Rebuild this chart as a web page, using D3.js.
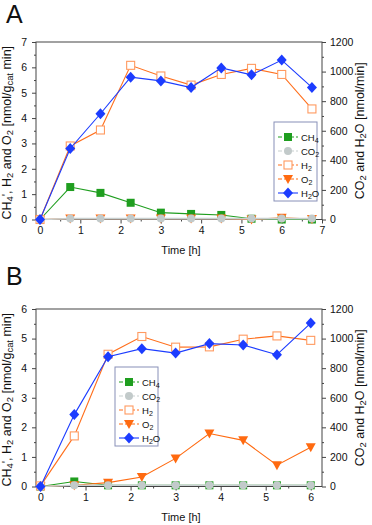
<!DOCTYPE html>
<html><head><meta charset="utf-8">
<script src="https://cdn.jsdelivr.net/npm/d3@7"></script>
<style>body{margin:0;background:#fff}svg{display:block;font-family:"Liberation Sans",Arial,sans-serif}</style>
</head><body><svg id="c" width="372" height="525"></svg>
<script>
// ---- Data ----
const seriesNames = ["CH4", "CO2", "H2", "O2", "H2O"];
const drawOrder = ["CH4", "O2", "H2", "CO2", "H2O"];
const timeA = [0, 0.75, 1.5, 2.25, 3, 3.75, 4.5, 5.25, 6, 6.75];
const ch4A = [0, 1.28, 1.05, 0.66, 0.27, 0.22, 0.18, 0.03, 0, 0];
const co2A = [0, 6, 6, 6, 6, 6, 6, 6, 6, 6];
const h2A  = [0, 2.9, 3.53, 6.08, 5.66, 5.3, 5.72, 5.96, 5.72, 4.36];
const o2A  = [0, 0.035, 0.035, 0.035, 0.035, 0.035, 0.035, 0, 0.07, 0.02];
const h2oA = [0, 480, 715, 962, 937, 892, 1025, 978, 1078, 893];

const timeB = [0, 0.75, 1.5, 2.25, 3, 3.75, 4.5, 5.25, 6];
const ch4B = [0, 0.17, 0.04, 0.04, 0.04, 0.04, 0.04, 0.04, 0.04];
const co2B = [0, 8, 8, 8, 8, 8, 8, 8, 8];
const h2B  = [0.02, 1.71, 4.47, 5.07, 4.71, 4.72, 4.98, 5.09, 4.94];
const o2B  = [0, 0.04, 0.13, 0.32, 0.95, 1.79, 1.56, 0.72, 1.33];
const h2oB = [0, 486, 878, 932, 902, 966, 957, 891, 1105];

const xTicksA = [0,1,2,3,4,5,6,7];
const xTicksB = [0,1,2,3,4,5,6];
const yLeftTicksA = [0,1,2,3,4,5,6,7];
const yLeftTicksB = [0,1,2,3,4,5,6];
const yRightTicks = [0,200,400,600,800,1000,1200];

const colors = {CH4:"#1f9e1f", CO2:"#c2caca", H2:"#ff6f1c", O2:"#ff6a10", H2O:"#1c3cff"};

const svg = d3.select("#c");

function marker(g, name, x, y) {
  if (name === "CH4") g.append("rect").attr("x", x-4).attr("y", y-4).attr("width", 8).attr("height", 8).attr("fill", colors.CH4);
  else if (name === "CO2") g.append("circle").attr("cx", x).attr("cy", y).attr("r", 4).attr("fill", colors.CO2);
  else if (name === "H2") g.append("rect").attr("x", x-4).attr("y", y-4).attr("width", 8).attr("height", 8).attr("fill", "#fff").attr("stroke", "#ff9a60").attr("stroke-width", 1.1);
  else if (name === "O2") g.append("path").attr("d", `M${x-5},${y-4}L${x+5},${y-4}L${x},${y+5}Z`).attr("fill", colors.O2);
  else if (name === "H2O") g.append("path").attr("d", `M${x},${y-5.5}L${x+5},${y}L${x},${y+5.5}L${x-5},${y}Z`).attr("fill", colors.H2O);
}

function subLabel(t, parts, ss) {
  parts.forEach(p => {
    if (typeof p === "string") t.append("tspan").text(p);
    else t.append("tspan").attr("baseline-shift", "-25%").attr("font-size", ss || "0.75em").text(p.s);
  });
}

function panel(cfg) {
  const g = svg.append("g");
  const x = d3.scaleLinear().domain(cfg.xDom).range([36, 322]);
  const yL = d3.scaleLinear().domain(cfg.yLDom).range([cfg.bottom, cfg.top]);
  const yR = d3.scaleLinear().domain([0, 1200]).range([cfg.bottom, cfg.top]);

  g.append("rect").attr("x", 36).attr("y", cfg.top).attr("width", 286).attr("height", cfg.bottom - cfg.top)
    .attr("fill", "none").attr("stroke", "#444").attr("stroke-width", 1);

  const fs = "10.5px";
  const xAx = g.append("g").attr("transform", `translate(0,${cfg.bottom})`)
    .call(d3.axisBottom(x).tickValues(cfg.xTicks).tickSize(4).tickPadding(3).tickFormat(d3.format("d")));
  const xMinor = g.append("g").attr("transform", `translate(0,${cfg.bottom})`)
    .call(d3.axisBottom(x).tickValues(cfg.xTicks.slice(0,-1).map(d => d + 0.5).filter(d => d <= cfg.xDom[1])).tickSize(2).tickFormat(""));
  const yAx = g.append("g").attr("transform", "translate(36,0)")
    .call(d3.axisLeft(yL).tickValues(cfg.yLTicks).tickSize(4).tickPadding(5).tickFormat(d3.format("d")));
  const yMinor = g.append("g").attr("transform", "translate(36,0)")
    .call(d3.axisLeft(yL).tickValues(cfg.yLTicks.slice(0,-1).map(d => d + 0.5)).tickSize(2).tickFormat(""));
  const rAx = g.append("g").attr("transform", "translate(322,0)")
    .call(d3.axisRight(yR).tickValues(yRightTicks).tickSize(4).tickPadding(4).tickFormat(d3.format("d")));
  const rMinor = g.append("g").attr("transform", "translate(322,0)")
    .call(d3.axisRight(yR).tickValues(yRightTicks.slice(0,-1).map(d => d + 100)).tickSize(2).tickFormat(""));
  [xAx, xMinor, yAx, yMinor, rAx, rMinor].forEach(a => {
    a.select(".domain").remove();
    a.selectAll("line").attr("stroke", "#444");
    a.selectAll("text").attr("font-size", fs).attr("fill", "#111").attr("font-family", "Liberation Sans, Arial, sans-serif");
  });

  g.append("text").attr("x", 6).attr("y", cfg.letterY).attr("font-size", "25px").attr("fill", "#111").text(cfg.letter);
  g.append("text").attr("x", 181).attr("y", cfg.bottom + 34.5).attr("text-anchor", "middle").attr("font-size", "11px").attr("fill", "#111").text("Time [h]");
  const lt = g.append("text").attr("transform", `translate(11,${(cfg.top + cfg.bottom)/2 + 2}) rotate(-90)`)
    .attr("text-anchor", "middle").attr("font-size", "12.5px").attr("fill", "#111");
  subLabel(lt, ["CH", {s:"4"}, "', H", {s:"2"}, " and O", {s:"2"}, " [nmol/g", {s:"cat"}, " min]"]);
  const rt = g.append("text").attr("transform", `translate(364,${(cfg.top + cfg.bottom)/2}) rotate(-90)`)
    .attr("text-anchor", "middle").attr("font-size", "12.5px").attr("fill", "#111");
  subLabel(rt, ["CO", {s:"2"}, " and H", {s:"2"}, "O [nmol/min]"]);

  const data = {CH4: cfg.ch4, CO2: cfg.co2, H2: cfg.h2, O2: cfg.o2, H2O: cfg.h2o};
  const axisOf = {CH4: yL, CO2: yR, H2: yL, O2: yL, H2O: yR};
  const lineCol = {CH4: colors.CH4, CO2: "#c8d0d0", H2: colors.H2, O2: colors.O2, H2O: colors.H2O};
  drawOrder.forEach(name => {
    const ys = axisOf[name];
    const pts = cfg.time.map((t, i) => [x(t), ys(data[name][i])]);
    const sg = g.append("g");
    sg.append("path").attr("d", d3.line()(pts)).attr("fill", "none").attr("stroke", lineCol[name]).attr("stroke-width", name === "CO2" ? 1.6 : 1.1);
    pts.forEach(p => marker(sg, name, p[0], p[1]));
  });

  const L = cfg.legend;
  g.append("rect").attr("x", L.x).attr("y", L.y).attr("width", 43).attr("height", 79).attr("fill", "#fff").attr("stroke", "#8890b8").attr("stroke-width", 1);
  const labels = {CH4:["CH",{s:"4"}], CO2:["CO",{s:"2"}], H2:["H",{s:"2"}], O2:["O",{s:"2"}], H2O:["H",{s:"2"},"O"]};
  seriesNames.forEach((name, i) => {
    const yy = L.y + 15 + i * 14;
    g.append("line").attr("x1", L.x + 4).attr("x2", L.x + 24).attr("y1", yy).attr("y2", yy)
      .attr("stroke", lineCol[name]).attr("stroke-width", 1.1).attr("stroke-dasharray", name === "H2O" ? null : "4,2");
    marker(g, name, L.x + 14, yy);
    const t = g.append("text").attr("x", L.x + 27).attr("y", yy + 3.5).attr("font-size", "9.5px").attr("fill", "#111");
    subLabel(t, labels[name]);
  });
}

panel({letter:"A", letterY:23, top:42, bottom:219.5, xDom:[-0.1, 7], yLDom:[0,7], xTicks:xTicksA, yLTicks:yLeftTicksA,
  time:timeA, ch4:ch4A, co2:co2A, h2:h2A, o2:o2A, h2o:h2oA, legend:{x:274, y:122}});
panel({letter:"B", letterY:285, top:309, bottom:486.5, xDom:[-0.1, 6.25], yLDom:[0,6], xTicks:xTicksB, yLTicks:yLeftTicksB,
  time:timeB, ch4:ch4B, co2:co2B, h2:h2B, o2:o2B, h2o:h2oB, legend:{x:115, y:367}});
</script></body></html>
